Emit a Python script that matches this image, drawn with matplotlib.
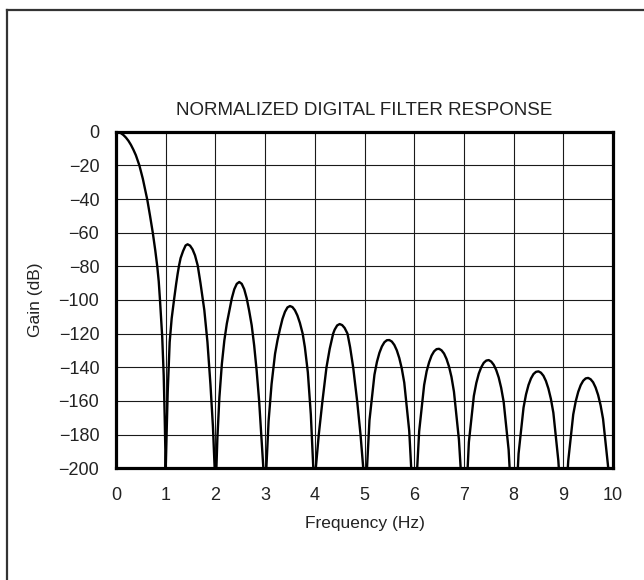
import matplotlib
matplotlib.use("Agg")
import matplotlib.pyplot as plt
from matplotlib.lines import Line2D

plt.rcParams['font.family'] = ['Liberation Sans', 'DejaVu Sans']

# Frequency (Hz) and gain (dB), lobe by lobe
main_f = [0.0, 0.05, 0.1, 0.15, 0.2, 0.25, 0.3, 0.35, 0.4, 0.47, 0.54, 0.63, 0.685,
          0.74, 0.79, 0.83, 0.86, 0.885, 0.91, 0.93, 0.96, 0.98, 1.0]
main_g = [0.0, -0.25, -0.9, -2.0, -3.5, -5.4, -7.8, -10.7, -14.0, -20.0, -28.0, -40.5, -50.0,
          -60.0, -70.5, -80.0, -89.0, -100.0, -112.0, -122.0, -145.0, -170.0, -200.0]

lobe1_f = [1.0, 1.015, 1.04, 1.08, 1.12, 1.167, 1.21, 1.24, 1.268, 1.30, 1.35, 1.40, 1.44,
           1.49, 1.54, 1.59, 1.644, 1.70, 1.744, 1.777, 1.84, 1.90, 1.95, 1.985, 2.0]
lobe1_g = [-200, -183, -155, -125, -111, -100, -90.5, -84.5, -79.6, -75.1, -70.9, -67.6, -66.9,
           -67.7, -69.9, -73.5, -79.5, -90, -99, -106, -125, -150, -175, -200, -200]

lobe2_f = [2.02, 2.04, 2.08, 2.13, 2.18, 2.23, 2.28, 2.33, 2.38, 2.43, 2.48, 2.53, 2.58,
           2.63, 2.68, 2.73, 2.78, 2.83, 2.88, 2.93, 2.965, 3.0]
lobe2_g = [-200, -182, -158, -138, -124, -114, -106.5, -99, -93.6, -90.4, -89.3, -90.4, -93.6,
           -99, -106.5, -115, -127, -142, -160, -183, -200, -200]

lobe3_f = [3.025, 3.07, 3.13, 3.2, 3.25, 3.3, 3.35, 3.4, 3.45, 3.5, 3.55, 3.6, 3.65, 3.7,
           3.756, 3.8, 3.86, 3.92, 3.97, 4.0]
lobe3_g = [-200, -172, -150, -132, -123.8, -117.2, -111.2, -107, -104.4, -103.6, -104.2, -106.1,
           -109.2, -113.6, -120, -128, -143, -168, -200, -200]

lobe4_f = [4.02, 4.08, 4.154, 4.235, 4.30, 4.369, 4.40, 4.45, 4.5, 4.55, 4.6, 4.658, 4.71,
           4.772, 4.852, 4.92, 4.975, 5.0]
lobe4_g = [-200, -180, -160, -140, -129, -120, -117.6, -115.1, -114.3, -114.9, -116.6, -120, -128,
           -140, -160, -180, -200, -200]

lobe5_f = [5.05, 5.1, 5.2, 5.25, 5.3, 5.35, 5.4, 5.45, 5.5, 5.55, 5.6, 5.65, 5.7, 5.75, 5.8,
           5.9, 5.94, 6.0]
lobe5_g = [-200, -171.5, -144.4, -136.8, -131.4, -127.6, -125.1, -123.9, -123.8, -124.7, -126.7,
           -129.9, -134.5, -140.7, -149.1, -177.8, -200, -200]

lobe6_f = [6.06, 6.1, 6.2, 6.25, 6.3, 6.35, 6.4, 6.45, 6.5, 6.55, 6.6, 6.65, 6.7, 6.75, 6.8,
           6.9, 6.935, 7.0]
lobe6_g = [-200, -178, -150.5, -142.4, -137, -133.0, -130.5, -129.2, -129, -129.9, -131.8,
           -135.0, -139.5, -145.7, -154.5, -183, -200, -200]

lobe7_f = [7.075, 7.1, 7.2, 7.25, 7.3, 7.35, 7.4, 7.45, 7.5, 7.55, 7.6, 7.65, 7.7, 7.75, 7.8,
           7.9, 7.92, 8.0]
lobe7_g = [-200, -184.5, -157, -149.3, -143.7, -139.9, -137.3, -136.0, -135.7, -136.6, -138.5,
           -141.6, -146, -152.2, -160.5, -189, -200, -200]

lobe8_f = [8.085, 8.1, 8.2, 8.25, 8.3, 8.35, 8.4, 8.45, 8.5, 8.55, 8.6, 8.65, 8.7, 8.75, 8.8,
           8.9, 8.91, 9.0]
lobe8_g = [-200, -191.3, -163.9, -156.1, -150.5, -146.6, -144, -142.7, -142.4, -143.2, -145,
           -148.1, -152.6, -158.7, -167, -195.4, -200, -200]

lobe9_f = [9.09, 9.1, 9.2, 9.25, 9.3, 9.35, 9.4, 9.45, 9.5, 9.55, 9.6, 9.65, 9.7, 9.75, 9.8,
           9.9, 9.905, 10.0]
lobe9_g = [-200, -195.4, -168, -160.2, -154.6, -150.6, -148, -146.6, -146.3, -147.1, -148.9,
           -152.0, -156.4, -162.5, -170.7, -199, -200, -200]

x_ticks = [0, 1, 2, 3, 4, 5, 6, 7, 8, 9, 10]
y_ticks = [0, -20, -40, -60, -80, -100, -120, -140, -160, -180, -200]

freq = (main_f + lobe1_f + lobe2_f + lobe3_f + lobe4_f + lobe5_f +
        lobe6_f + lobe7_f + lobe8_f + lobe9_f)
gain = (main_g + lobe1_g + lobe2_g + lobe3_g + lobe4_g + lobe5_g +
        lobe6_g + lobe7_g + lobe8_g + lobe9_g)

fig = plt.figure(figsize=(6.44, 5.80), dpi=100)
fig.patch.set_facecolor('white')
ax = fig.add_axes([116 / 644, (580 - 468.3) / 580, 497 / 644, 336.6 / 580])

ax.plot(freq, gain, color='black', lw=1.7, solid_joinstyle='round', zorder=3)

ax.set_xlim(0, 10)
ax.set_ylim(-200, 0)
ax.set_xticks(x_ticks)
ax.set_yticks(y_ticks)
ax.set_xticklabels([str(v) for v in x_ticks])
ax.set_yticklabels([('\u2212' + str(-v)) if v < 0 else str(v) for v in y_ticks])
ax.tick_params(axis='both', length=0, labelsize=13, colors='#222222')
ax.tick_params(axis='x', pad=13.5)
ax.tick_params(axis='y', pad=12)
ax.grid(True, color='#1a1a1a', lw=0.8)
ax.set_axisbelow(True)
for sp in ax.spines.values():
    sp.set_linewidth(2.3)
    sp.set_color('black')
    sp.set_zorder(4)

ax.set_title('NORMALIZED DIGITAL FILTER RESPONSE', fontsize=13.5, color='#222222', pad=12)
ax.set_xlabel('Frequency (Hz)', fontsize=12.5, color='#222222', labelpad=8.5)
ax.set_ylabel('Gain (dB)', fontsize=12.5, color='#222222', labelpad=11)

# Outer frame (left and top edges visible in the reference)
fig.add_artist(Line2D([6.5 / 644, 6.5 / 644], [0, 1 - 9.5 / 580], transform=fig.transFigure,
                      color='#333333', lw=1.6))
fig.add_artist(Line2D([6.5 / 644, 1], [1 - 9.5 / 580, 1 - 9.5 / 580], transform=fig.transFigure,
                      color='#333333', lw=1.6))

fig.savefig('out.png', dpi=100)
